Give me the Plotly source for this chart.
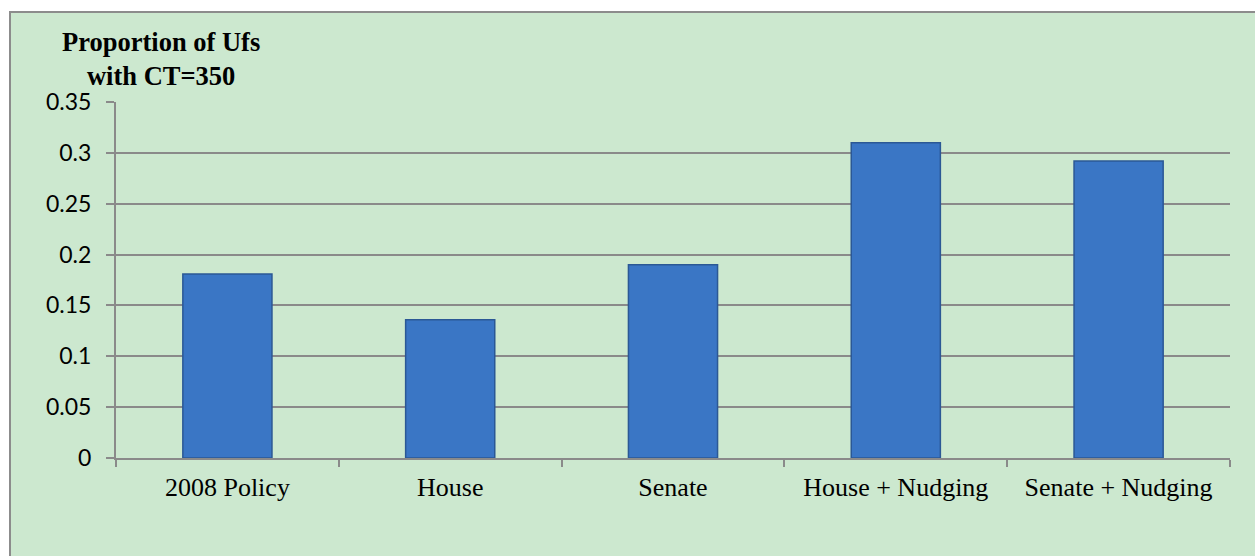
import plotly.graph_objects as go

categories = ["2008 Policy", "House", "Senate", "House + Nudging", "Senate + Nudging"]
proportions = [0.181, 0.136, 0.190, 0.310, 0.292]
y_ticks = [0, 0.05, 0.1, 0.15, 0.2, 0.25, 0.3, 0.35]
y_tick_labels = ["0", "0.05", "0.1", "0.15", "0.2", "0.25", "0.3", "0.35"]
title_text = "Proportion of Ufs<br>with CT=350"

W, H = 1255, 556
L, R, T, B = 116, 25, 102, 98
pw, ph = W - L - R, H - T - B

green = "#CCE8CF"
grid = "#8A8A8A"

fig = go.Figure()
fig.add_trace(go.Bar(
    x=categories, y=proportions,
    marker=dict(color="#3A76C5", line=dict(color="#2B5895", width=1.5)),
    width=0.4,
))

fig.update_layout(
    width=W, height=H,
    margin=dict(l=L, r=R, t=T, b=B, autoexpand=False),
    paper_bgcolor="white",
    plot_bgcolor=green,
    showlegend=False,
    xaxis=dict(
        tickson="boundaries", ticks="outside", ticklen=7, tickwidth=1.5, tickcolor=grid,
        showline=True, linecolor=grid, linewidth=2, showgrid=False,
        tickfont=dict(family="Liberation Serif", size=26, color="black"),
        automargin=False, ticklabelstandoff=5,
    ),
    yaxis=dict(
        range=[0, 0.35], tickvals=y_ticks, ticktext=y_tick_labels,
        ticks="outside", ticklen=8, tickwidth=1.5, tickcolor=grid,
        showline=True, linecolor=grid, linewidth=2,
        showgrid=True, gridcolor=grid, gridwidth=1.5, zeroline=False,
        tickfont=dict(family="Lato", size=23, color="black"),
        automargin=False, ticklabelstandoff=10,
    ),
    shapes=[dict(
        type="rect", xref="paper", yref="paper", layer="below",
        x0=(10 - L) / pw, x1=(W + 20 - L) / pw,
        y0=-(H + 20 - T - ph) / ph, y1=(H - B - 12) / ph,
        fillcolor=green, line=dict(color="#8C8C8C", width=2),
    )],
    annotations=[dict(
        text=title_text, xref="paper", yref="paper",
        x=(161 - L) / pw, y=(H - B - 93) / ph, xanchor="center", yanchor="bottom",
        showarrow=False, align="center",
        font=dict(family="Liberation Serif", size=26.5, color="black", weight="bold"),
    )],
)

fig.write_html("out.html")
